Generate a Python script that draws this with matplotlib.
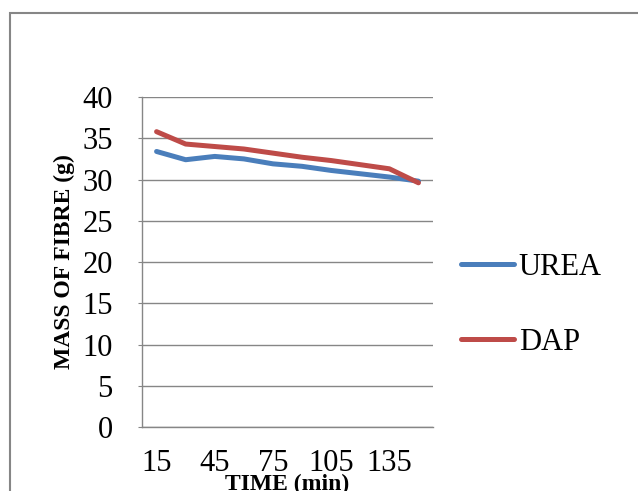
import matplotlib.pyplot as plt
from matplotlib.patches import Rectangle

time_min = [15, 30, 45, 60, 75, 90, 105, 120, 135, 150]
urea = [33.4, 32.4, 32.8, 32.5, 31.9, 31.6, 31.1, 30.7, 30.3, 29.8]
dap = [35.8, 34.3, 34.0, 33.7, 33.2, 32.7, 32.3, 31.8, 31.3, 29.6]

plt.rcParams["font.family"] = ["Liberation Serif", "DejaVu Serif"]

fig = plt.figure(figsize=(6.38, 4.91), dpi=100)
ax = fig.add_axes([0.2226, 0.1303, 0.4561, 0.6721])

# outer chart border (cut off at right and bottom)
fig.patches.append(Rectangle((10 / 638, -0.05), 1.0, 1 - 13 / 491 + 0.05,
                             transform=fig.transFigure, fill=False,
                             edgecolor="#868686", lw=1.5))

xs = list(range(len(time_min)))
ax.plot(xs, urea, color="#4A7EBB", lw=3.6, label="UREA", solid_capstyle="round")
ax.plot(xs, dap, color="#BE4B48", lw=3.6, label="DAP", solid_capstyle="round")

ax.set_xlim(-0.5, len(time_min) - 0.5)
ax.set_ylim(0, 40)
ax.set_yticks(range(0, 41, 5))
ax.set_xticks(xs[::2])
ax.set_xticklabels([str(t) for t in time_min[::2]])
ax.yaxis.grid(True, color="#868686", lw=1)
ax.set_axisbelow(True)

for s in ["top", "right"]:
    ax.spines[s].set_visible(False)
for s in ["left", "bottom"]:
    ax.spines[s].set_color("#868686")
    ax.spines[s].set_linewidth(1)

ax.tick_params(axis="y", length=3, color="#868686", labelsize=22, pad=18)
ax.tick_params(axis="x", length=0, labelsize=22, pad=16)

ax.set_ylabel("MASS OF FIBRE (g)", fontsize=17, fontweight="bold", labelpad=5)
ax.set_xlabel("TIME (min)", fontsize=17, fontweight="bold", labelpad=-3)

ax.legend(loc="center left", bbox_to_anchor=(1.0, 0.37), frameon=False,
          fontsize=22, handlelength=1.75, handletextpad=0.15, labelspacing=1.5)

fig.savefig("out.png", dpi=100)
